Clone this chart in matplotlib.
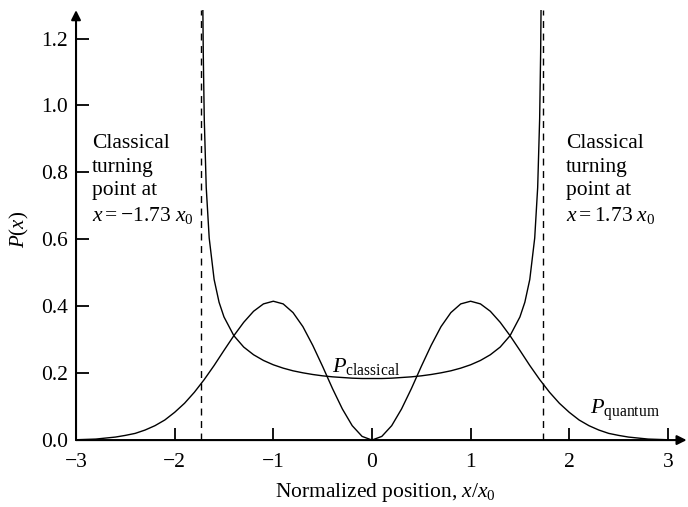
import matplotlib
matplotlib.use('Agg')
import matplotlib.pyplot as plt

plt.rcParams['font.family'] = 'Liberation Serif'
plt.rcParams['mathtext.fontset'] = 'custom'
plt.rcParams['mathtext.rm'] = 'Liberation Serif'
plt.rcParams['mathtext.it'] = 'Liberation Serif:italic'

# quantum probability density
x_quantum = [-3.0, -2.9, -2.8, -2.7, -2.6, -2.5, -2.4, -2.3, -2.2, -2.1,
             -2.0, -1.9, -1.8, -1.7, -1.6, -1.5, -1.4, -1.3, -1.2, -1.1,
             -1.0, -0.9, -0.8, -0.7, -0.6, -0.5, -0.4, -0.3, -0.2, -0.1,
             0.0, 0.1, 0.2, 0.3, 0.4, 0.5, 0.6, 0.7, 0.8, 0.9,
             1.0, 1.1, 1.2, 1.3, 1.4, 1.5, 1.6, 1.7, 1.8, 1.9,
             2.0, 2.1, 2.2, 2.3, 2.4, 2.5, 2.6, 2.7, 2.8, 2.9, 3.0]
p_quantum = [0.001, 0.002, 0.003, 0.006, 0.009, 0.014, 0.020, 0.030, 0.043, 0.060,
             0.083, 0.110, 0.143, 0.181, 0.223, 0.268, 0.312, 0.352, 0.385, 0.407,
             0.415, 0.407, 0.381, 0.339, 0.283, 0.220, 0.154, 0.093, 0.043, 0.011,
             0.0, 0.011, 0.043, 0.093, 0.154, 0.220, 0.283, 0.339, 0.381, 0.407,
             0.415, 0.407, 0.385, 0.352, 0.312, 0.268, 0.223, 0.181, 0.143, 0.110,
             0.083, 0.060, 0.043, 0.030, 0.020, 0.014, 0.009, 0.006, 0.003, 0.002, 0.001]

# classical probability density
x_classical = [-1.715, -1.71, -1.70, -1.68, -1.65, -1.60, -1.55, -1.5, -1.4, -1.3,
               -1.2, -1.1, -1.0, -0.9, -0.8, -0.7, -0.6, -0.5, -0.4, -0.3, -0.2, -0.1,
               0.0, 0.1, 0.2, 0.3, 0.4, 0.5, 0.6, 0.7, 0.8, 0.9, 1.0, 1.1, 1.2,
               1.3, 1.4, 1.5, 1.55, 1.60, 1.65, 1.68, 1.70, 1.71, 1.715]
p_classical = [1.313, 1.155, 0.960, 0.755, 0.604, 0.480, 0.412, 0.368, 0.312, 0.278,
               0.255, 0.238, 0.225, 0.215, 0.207, 0.201, 0.196, 0.192, 0.189, 0.187, 0.185, 0.184,
               0.184, 0.184, 0.185, 0.187, 0.189, 0.192, 0.196, 0.201, 0.207, 0.215, 0.225, 0.238, 0.255,
               0.278, 0.312, 0.368, 0.412, 0.480, 0.604, 0.755, 0.960, 1.155, 1.313]

turning_points = [-1.73, 1.73]
x_ticks = [-3, -2, -1, 0, 1, 2, 3]
x_ticklabels = ['\u22123', '\u22122', '\u22121', '0', '1', '2', '3']
y_ticks = [0.0, 0.2, 0.4, 0.6, 0.8, 1.0, 1.2]
y_ticklabels = ['0.0', '0.2', '0.4', '0.6', '0.8', '1.0', '1.2']

fig = plt.figure(figsize=(6.88, 5.07), dpi=100)
ax = fig.add_axes([0.1105, 0.132, 0.8875, 0.848])

ax.plot(x_quantum, p_quantum, color='black', lw=1.0)
ax.plot(x_classical, p_classical, color='black', lw=1.0)
for t in turning_points:
    ax.axvline(t, color='black', lw=1.0, ls=(0, (5, 4)))

ax.set_xlim(-3, 3.19)
ax.set_ylim(0, 1.285)

for s in ax.spines.values():
    s.set_visible(False)

# axis lines with arrow heads
ax.annotate('', xy=(1.0, 0), xycoords='axes fraction', xytext=(0, 0),
            arrowprops=dict(arrowstyle='-|>', lw=1.5, color='black', mutation_scale=14,
                            shrinkA=0, shrinkB=0))
ax.annotate('', xy=(0, 1.0), xycoords='axes fraction', xytext=(0, 0),
            arrowprops=dict(arrowstyle='-|>', lw=1.5, color='black', mutation_scale=14,
                            shrinkA=0, shrinkB=0))

ax.set_xticks(x_ticks)
ax.set_xticklabels(x_ticklabels)
ax.set_yticks(y_ticks)
ax.set_yticklabels(y_ticklabels)
ax.tick_params(axis='x', direction='in', length=9, width=1.3, labelsize=15.5, pad=9)
ax.tick_params(axis='y', direction='in', length=9, width=1.3, labelsize=15.5, pad=6)

txt_kw = dict(fontsize=15.5, va='top', ha='left', linespacing=1.33)
ax.text(-2.84, 0.915, 'Classical\nturning\npoint at\n' + r'$x = -1.73\ x_0$', **txt_kw)
ax.text(1.965, 0.915, 'Classical\nturning\npoint at\n' + r'$x = 1.73\ x_0$', **txt_kw)

ax.text(-0.40, 0.203, r'$P_{\mathrm{classical}}$', fontsize=16, va='baseline')
ax.text(2.21, 0.078, r'$P_{\mathrm{quantum}}$', fontsize=16, va='baseline')

fig.text(19 / 688, 1 - 229 / 507, r'$P(x)$', rotation=90, fontsize=15,
         ha='center', va='center')
fig.text(385 / 688, 1 - 492 / 507, r'Normalized position, $x/x_0$', fontsize=15.5,
         ha='center', va='center')

fig.savefig('out.png', dpi=100)
